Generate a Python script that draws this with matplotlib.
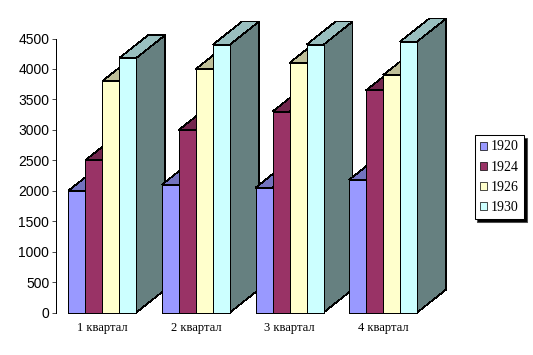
import matplotlib
matplotlib.use("Agg")
import matplotlib.pyplot as plt
from matplotlib.patches import Polygon, Patch

# values
quarters = ['1 квартал', '2 квартал', '3 квартал', '4 квартал']
years = ['1920', '1924', '1926', '1930']
v1920 = [2000, 2100, 2050, 2180]
v1924 = [2500, 3000, 3300, 3650]
v1926 = [3800, 4000, 4100, 3900]
v1930 = [4180, 4400, 4400, 4450]
series = [v1920, v1924, v1926, v1930]

front = ['#9999FF', '#993366', '#FFFFCC', '#CCFFFF']
top = ['#7373BF', '#73264D', '#BFBF99', '#99BFBF']
side = ['#4D4D80', '#4D1A33', '#808066', '#668080']

W, H = 533, 355
px_left, px_right = 55.5, 430
px_bottom, px_top = 312.5, 38.5
line = 0.5

fig = plt.figure(figsize=(W / 100, H / 100), dpi=100)
ax = fig.add_axes([px_left / W, 1 - px_bottom / H,
                   (px_right - px_left) / W, (px_bottom - px_top) / H])
ax.set_xlim(0, 4)
ax.set_ylim(0, 4500)

# pixel sizes converted to data units
ux = 4 / (px_right - px_left)
uy = 4500 / (px_bottom - px_top)
bar_w = 17 * ux
dx = 29 * ux
dy = 23 * uy

z = 3
for g in range(len(quarters)):
    start = g + 0.5 - 2 * bar_w
    for s in range(len(years)):
        x0 = start + s * bar_w
        x1 = x0 + bar_w
        v = series[s][g]
        ax.add_patch(Polygon([(x0, v), (x1, v), (x1 + dx, v + dy), (x0 + dx, v + dy)],
                             fc=top[s], ec='black', lw=line, zorder=z, clip_on=False,
                             antialiased=False))
        ax.add_patch(Polygon([(x1, 0), (x1 + dx, dy), (x1 + dx, v + dy), (x1, v)],
                             fc=side[s], ec='black', lw=line, zorder=z, clip_on=False,
                             antialiased=False))
        b = ax.bar(x0, v, bar_w, align='edge', color=front[s], edgecolor='black',
                   lw=line, zorder=z + 1, clip_on=False)
        b[0].set_antialiased(False)
        z += 2

for sp in ['top', 'right', 'bottom']:
    ax.spines[sp].set_visible(False)
ax.spines['left'].set_linewidth(line)
ax.spines['left'].set_antialiased(False)

ax.set_yticks(range(0, 5000, 500))
ax.tick_params(axis='y', length=3, width=line, pad=1.5, labelsize=10)
for t in ax.get_yticklabels():
    t.set_fontfamily('Liberation Sans')
ax.set_xticks([g + 0.5 for g in range(4)])
ax.set_xticklabels(quarters, family='Liberation Serif', fontsize=9)
ax.tick_params(axis='x', length=0, pad=7)

handles = [Patch(fc=front[i], ec='black', lw=line, label=years[i]) for i in range(4)]
leg = fig.legend(handles=handles, loc='upper left',
                 bbox_to_anchor=(474.5 / W, 1 - 135.5 / H), borderaxespad=0,
                 prop={'family': 'Liberation Serif', 'size': 10},
                 fancybox=False, edgecolor='black', framealpha=1,
                 shadow={'facecolor': 'black', 'alpha': 1, 'ox': 2, 'oy': -2},
                 handlelength=0.52, handleheight=0.52, handletextpad=0.3,
                 labelspacing=0.52, borderpad=0.36)
leg.get_frame().set_linewidth(0.75)

fig.savefig('out.png', dpi=100)
